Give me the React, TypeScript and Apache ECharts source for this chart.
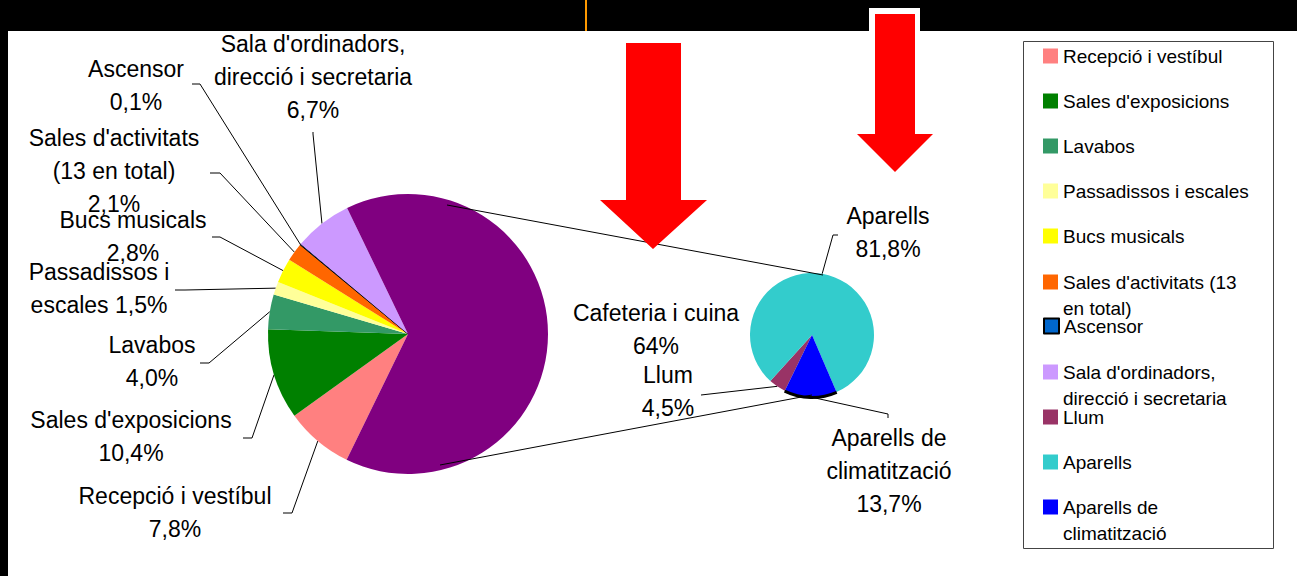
import React, { useEffect, useRef } from 'react';
import * as echarts from 'echarts';

// ---------- data ----------
const mainCategories = [
  'Recepció i vestíbul',
  "Sales d'exposicions",
  'Lavabos',
  'Passadissos i escales',
  'Bucs musicals',
  "Sales d'activitats (13 en total)",
  'Ascensor',
  "Sala d'ordinadors, direcció i secretaria",
  'Cafeteria i cuina',
];
const mainValues = [7.8, 10.4, 4.0, 1.5, 2.8, 2.1, 0.1, 6.7, 64];
const mainLabelNames = [
  'Recepció i vestíbul\n',
  "Sales d'exposicions\n",
  'Lavabos\n',
  'Passadissos i\nescales ',
  'Bucs musicals\n',
  "Sales d'activitats\n(13 en total)\n",
  'Ascensor\n',
  "Sala d'ordinadors,\ndirecció i secretaria\n",
  'Cafeteria i cuina\n',
];
const mainColors = ['#FF8080', '#008000', '#339966', '#FFFF99', '#FFFF00', '#FF6600', '#0066CC', '#CC99FF', '#800080'];

const detailCategories = ['Llum', 'Aparells', 'Aparells de climatització'];
const detailValues = [4.5, 81.8, 13.7];
const detailLabelNames = ['Llum\n', 'Aparells\n', 'Aparells de\nclimatització\n'];
const detailColors = ['#993366', '#33CCCC', '#0000FF'];

const legendCategories = [...mainCategories.slice(0, 8), ...detailCategories];
const legendLabels = [
  'Recepció i vestíbul',
  "Sales d'exposicions",
  'Lavabos',
  'Passadissos i escales',
  'Bucs musicals',
  "Sales d'activitats (13\nen total)",
  'Ascensor',
  "Sala d'ordinadors,\ndirecció i secretaria",
  'Llum',
  'Aparells',
  'Aparells de\nclimatització',
];

// ---------- layout (label placement, not data) ----------
const mainLabelPos = [[175, 512], [131, 436], [152, 361], [99, 288], [133, 236], [114, 171], [136, 85], [313, 77], [656, 329]];
const mainLineEnds: (number[][] | null)[] = [
  [[292, 513], [283, 513]],
  [[252, 438], [243, 438]],
  [[209, 363], [200, 363]],
  [[185, 290], [175, 290]],
  [[220, 237], [212, 237]],
  [[220, 173], [210, 173]],
  [[200, 84], [192, 84]],
  [[313, 134], [313, 132]],
  null,
];
const detailLabelPos = [[668, 391], [888, 232], [889, 471]];
const detailLineEnds = [
  [[701, 395], [701, 395]],
  [[833, 235], [838, 235]],
  [[888, 414], [888, 418]],
];

const FONT = "'Liberation Sans', Arial, sans-serif";
const fmtPct = (v: number) => (v >= 10 && Number.isInteger(v) ? String(v) : v.toFixed(1).replace('.', ',')) + '%';

function makeLayout(pos: number[][], ends: (number[][] | null)[]) {
  return (p: any) => {
    const i = p.dataIndex;
    const res: any = { x: pos[i][0], y: pos[i][1], align: 'center', verticalAlign: 'middle' };
    const e = ends[i];
    if (e && p.labelLinePoints) res.labelLinePoints = [p.labelLinePoints[0], e[0], e[1]];
    return res;
  };
}

export default function App() {
  const ref = useRef<HTMLDivElement>(null);
  useEffect(() => {
    if (!ref.current) return;
    const chart = echarts.init(ref.current, undefined, { renderer: 'svg' });

    const textBase = { fontFamily: FONT, fontSize: 19, color: '#000', lineHeight: 26 };
    const legendLabelOf = (n: string) => legendLabels[legendCategories.indexOf(n)];
    const legendBase = {
      orient: 'vertical',
      left: 1043,
      itemWidth: 15,
      itemHeight: 15,
      itemGap: 19,
      icon: 'rect',
      padding: 0,
      selectedMode: false,
      textStyle: textBase,
      formatter: legendLabelOf,
    };
    // multi-line entries: first line level with the icon, the rest hanging below
    const multiLine = { ...legendBase, formatter: (n: string) => '\n' + legendLabelOf(n) };

    const labelStyle = { fontFamily: FONT, fontSize: 23, color: '#000', lineHeight: 33 };

    chart.setOption({
      animation: false,
      backgroundColor: '#fff',
      legend: [
        { ...legendBase, top: 43, data: legendCategories.slice(0, 5) },
        { ...multiLine, top: 243, data: legendCategories.slice(5, 6) },
        { ...legendBase, top: 313, data: legendCategories.slice(6, 7) },
        { ...multiLine, top: 333, data: legendCategories.slice(7, 8) },
        { ...legendBase, top: 404, data: legendCategories.slice(8, 10) },
        { ...multiLine, top: 468, data: legendCategories.slice(10) },
      ],
      graphic: [
        { type: 'rect', z: 0, shape: { x: 0, y: 0, width: 1297, height: 31 }, style: { fill: '#000' } },
        { type: 'rect', z: 0, shape: { x: 0, y: 0, width: 8, height: 576 }, style: { fill: '#000' } },
        { type: 'rect', z: 1, shape: { x: 585, y: 0, width: 2, height: 31 }, style: { fill: '#FF9900' } },
        { type: 'rect', z: 1, shape: { x: 869, y: 8, width: 51, height: 23 }, style: { fill: '#fff' } },
        { type: 'rect', z: 1, shape: { x: 1023.5, y: 41.5, width: 250, height: 507 }, style: { fill: 'none', stroke: '#444', lineWidth: 1 } },
        { type: 'line', z: 5, shape: { x1: 447, y1: 205, x2: 823, y2: 275 }, style: { stroke: '#000', lineWidth: 1 } },
        { type: 'line', z: 5, shape: { x1: 440, y1: 465, x2: 812, y2: 395 }, style: { stroke: '#000', lineWidth: 1 } },
        {
          type: 'polygon', z: 10,
          shape: { points: [[626, 43], [681, 43], [681, 200], [707, 200], [653, 249], [600, 200], [626, 200]] },
          style: { fill: '#FF0000' },
        },
        {
          type: 'polygon', z: 10,
          shape: { points: [[875, 14], [915, 14], [915, 134], [933, 134], [895, 172], [857, 134], [875, 134]] },
          style: { fill: '#FF0000' },
        },
      ],
      series: [
        {
          type: 'pie',
          center: [408, 334],
          radius: 140,
          startAngle: 244,
          clockwise: true,
          avoidLabelOverlap: false,
          z: 3,
          label: {
            show: true,
            position: 'outside',
            ...labelStyle,
            formatter: (p: any) => mainLabelNames[p.dataIndex] + fmtPct(p.value),
          },
          labelLine: { show: true, length: 10, length2: 10, lineStyle: { color: '#000', width: 1 } },
          labelLayout: makeLayout(mainLabelPos, mainLineEnds),
          emphasis: { disabled: true },
          data: mainCategories.map((name, i) => ({
            name,
            value: mainValues[i],
            itemStyle: name === 'Ascensor'
              ? { color: mainColors[i], borderColor: '#000', borderWidth: 1 }
              : { color: mainColors[i], borderWidth: 0 },
            labelLine: i === mainCategories.length - 1 ? { show: false } : undefined,
          })),
        },
        {
          type: 'pie',
          center: [812, 335],
          radius: 62,
          startAngle: 244,
          clockwise: true,
          avoidLabelOverlap: false,
          z: 3,
          label: {
            show: true,
            position: 'outside',
            ...labelStyle,
            formatter: (p: any) => detailLabelNames[p.dataIndex] + fmtPct(p.value),
          },
          labelLine: { show: true, length: 10, length2: 10, lineStyle: { color: '#000', width: 1 } },
          labelLayout: makeLayout(detailLabelPos, detailLineEnds),
          emphasis: { disabled: true },
          data: detailCategories.map((name, i) => ({
            name,
            value: detailValues[i],
            itemStyle: { color: detailColors[i], borderWidth: 0 },
          })),
        },
        {
          type: 'pie',
          center: [812, 335],
          radius: [61, 64],
          startAngle: 244,
          clockwise: true,
          silent: true,
          z: 4,
          label: { show: false },
          labelLine: { show: false },
          emphasis: { disabled: true },
          data: detailValues.map((v, i) => ({
            name: 'ring-' + i,
            value: v,
            itemStyle: { color: i === detailValues.length - 1 ? '#000' : 'rgba(0,0,0,0)', borderWidth: 0 },
          })),
        },
      ],
    });
    return () => chart.dispose();
  }, []);
  return <div ref={ref} style={{ position: 'absolute', left: 0, top: 0, width: 1297, height: 576 }} />;
}
